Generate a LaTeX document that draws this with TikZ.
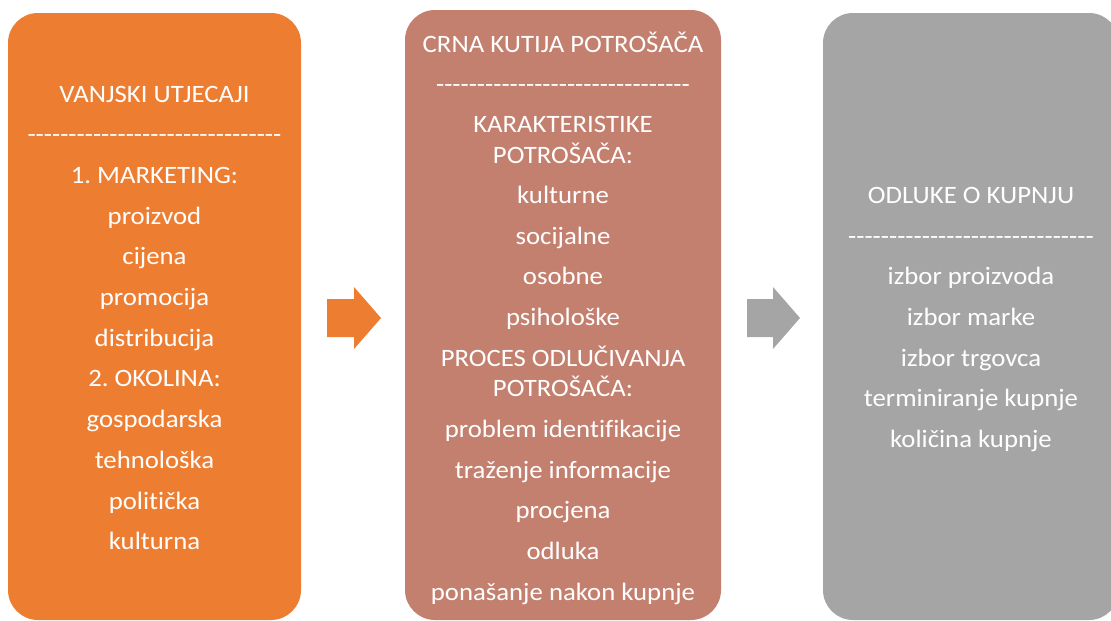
\documentclass[tikz,border=0pt]{standalone}
\usepackage{fontspec}
\setmainfont{Carlito}[Ligatures={TeXOff,NoCommon},FakeStretch=1.07]
\frenchspacing
\definecolor{orng}{HTML}{ED7D31}
\definecolor{salm}{HTML}{C4806F}
\definecolor{gry}{HTML}{A5A5A5}
\begin{document}
\begin{tikzpicture}[x=1pt,y=-1pt,
  txt/.style={text=white,font=\fontsize{25}{25}\selectfont,anchor=base,inner sep=0pt},
  panel/.style={rounded corners=30pt}]
\useasboundingbox (0,0) rectangle (1111,621);
% panels
\fill[orng,panel] (8,13) rectangle (301,620);
\fill[salm,panel] (405,10) rectangle (721,620);
\fill[gry,panel] (823,13) rectangle (1119,620);
% block arrows
\fill[orng] (327,299) -- (354,299) -- (354,287) -- (381,318) -- (354,349) -- (354,337) -- (327,337) -- cycle;
\fill[gry] (747,299) -- (773,299) -- (773,287) -- (800,318) -- (773,349) -- (773,337) -- (747,337) -- cycle;
% left panel text
\node[txt] (l1) at (154.5,102) {VANJSKI UTJECAJI};
\node[txt] (l2) at (154.5,142.7) {-------------------------------};
\node[txt] (l3) at (154.5,183.4) {1. MARKETING:};
\node[txt] (l4) at (154.5,224.1) {proizvod};
\node[txt] (l5) at (154.5,264.8) {cijena};
\node[txt] (l6) at (154.5,305.5) {promocija};
\node[txt] (l7) at (154.5,346.2) {distribucija};
\node[txt] (l8) at (154.5,386.9) {2. OKOLINA:};
\node[txt] (l9) at (154.5,427.6) {gospodarska};
\node[txt] (l10) at (154.5,468.3) {tehnološka};
\node[txt] (l11) at (154.5,509) {politička};
\node[txt] (l12) at (154.5,549.7) {kulturna};
% middle panel text
\node[txt] (m1) at (563,52) {CRNA KUTIJA POTROŠAČA};
\node[txt] (m2) at (563,92.5) {-------------------------------};
\node[txt] (m3) at (563,132.5) {KARAKTERISTIKE};
\node[txt] (m4) at (563,163) {POTROŠAČA:};
\node[txt] (m5) at (563,203.5) {kulturne};
\node[txt] (m6) at (563,244.2) {socijalne};
\node[txt] (m7) at (563,284.9) {osobne};
\node[txt] (m8) at (563,325.6) {psihološke};
\node[txt] (m9) at (563,366.3) {PROCES ODLUČIVANJA};
\node[txt] (m10) at (563,396.8) {POTROŠAČA:};
\node[txt] (m11) at (563,437.5) {problem identifikacije};
\node[txt] (m12) at (563,478.2) {traženje informacije};
\node[txt] (m13) at (563,518.9) {procjena};
\node[txt] (m14) at (563,559.6) {odluka};
\node[txt] (m15) at (563,600.3) {ponašanje nakon kupnje};
% right panel text
\node[txt] (r1) at (971,203.3) {ODLUKE O KUPNJU};
\node[txt] (r2) at (971,244) {------------------------------};
\node[txt] (r3) at (971,284.7) {izbor proizvoda};
\node[txt] (r4) at (971,325.4) {izbor marke};
\node[txt] (r5) at (971,366.1) {izbor trgovca};
\node[txt] (r6) at (971,406.8) {terminiranje kupnje};
\node[txt] (r7) at (971,447.5) {količina kupnje};
\end{tikzpicture}
\end{document}
